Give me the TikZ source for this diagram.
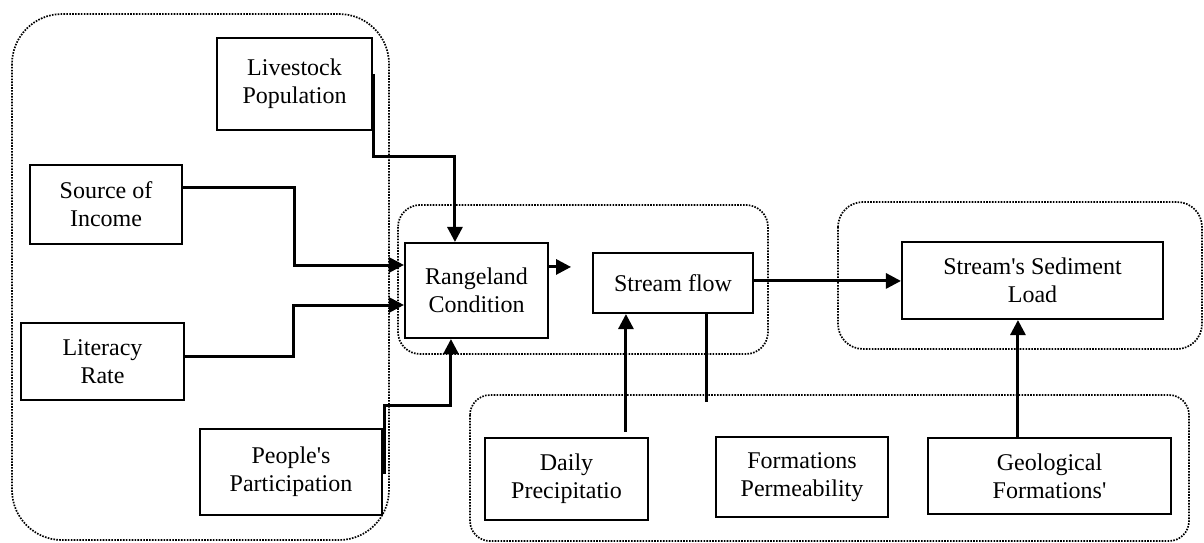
\documentclass[tikz,border=0pt]{standalone}
\usepackage{fontspec}
\setmainfont{Liberation Serif}
\usetikzlibrary{arrows.meta,calc}
\tikzset{
  factor/.style={draw, line width=2.1pt, align=center, inner sep=0pt,
    font=\fontsize{24}{28}\selectfont},
  group/.style={line width=1.7pt, dash pattern=on 1.6pt off 1.3pt},
  link/.style={line width=3pt},
  flow/.style={link, -{Triangle[length=15pt,width=15pt]}},
}
\begin{document}
\begin{tikzpicture}[x=1pt,y=-1pt]
\useasboundingbox (0,0) rectangle (1204,543);

% dotted groupings
\draw[group, rounded corners=50pt] (12,14) rectangle (389,540);
\draw[group, rounded corners=22pt] (398,205) rectangle (768,354);
\draw[group, rounded corners=25pt] (838,202) rectangle (1202,349);
\draw[group, rounded corners=20pt] (470,395) rectangle (1189,541);

% factors
\node[factor, minimum width=155pt, minimum height=92pt] (live) at (294.5,84) {Livestock\\Population};
\node[factor, minimum width=152pt, minimum height=79pt] (income) at (106,204.5) {Source of\\Income};
\node[factor, minimum width=163pt, minimum height=77pt] (lit) at (102.5,361.5) {Literacy\\Rate};
\node[factor, minimum width=182pt, minimum height=86pt] (people) at (291,472) {People\textquotesingle s\\Participation};
\node[factor, minimum width=143pt, minimum height=95pt] (range) at (476.5,290.5) {Rangeland\\Condition};
\node[factor, minimum width=160pt, minimum height=60pt] (flow) at (673,283) {Stream flow};
\node[factor, minimum width=261pt, minimum height=77pt] (sed) at (1032.5,280.5) {Stream\textquotesingle s Sediment\\Load};
\node[factor, minimum width=163pt, minimum height=82pt] (rain) at (566.5,479) {Daily\\Precipitatio};
\node[factor, minimum width=172pt, minimum height=80pt] (perm) at (802,477) {Formations\\Permeability};
\node[factor, minimum width=243pt, minimum height=76pt] (geo) at (1049.5,476) {Geological\\Formations\textquotesingle};

% connectors
\draw[flow] ($(live.north east)+(0,37)$) -- ($(live.north east)+(0,120)$)
  -| ($(range.north west)+(51,0)$);
\draw[flow] ($(income.north east)+(0,23.5)$) -| (294,265) -- (range.west |- 0,265);
\draw[flow] ($(lit.north east)+(0,35)$) -| (293,305) -- (range.west |- 0,305);
\draw[flow] ($(people.north east)+(1,46)$) -- ($(people.north east)+(1,-22)$)
  -| ($(range.south west)+(47,0)$);
\coordinate (rangeout) at ($(range.north east)+(22,25)$);
\draw[flow] ($(range.north east)+(0,25)$) -- (rangeout);
\coordinate (flowout) at ($(flow.north east)+(0,29)$);
\draw[flow] (flowout) -- (flowout -| sed.west);
\coordinate (rainend) at ($(rain.north west)+(142,-5)$);
\draw[flow] (rainend) -- (rainend |- flow.south);
\coordinate (permend) at (706,402);
\draw[link] (permend |- flow.south) -- (permend);
\coordinate (geoout) at ($(geo.north west)+(91,0)$);
\draw[flow] (geoout) -- (geoout |- sed.south);
\end{tikzpicture}
\end{document}
